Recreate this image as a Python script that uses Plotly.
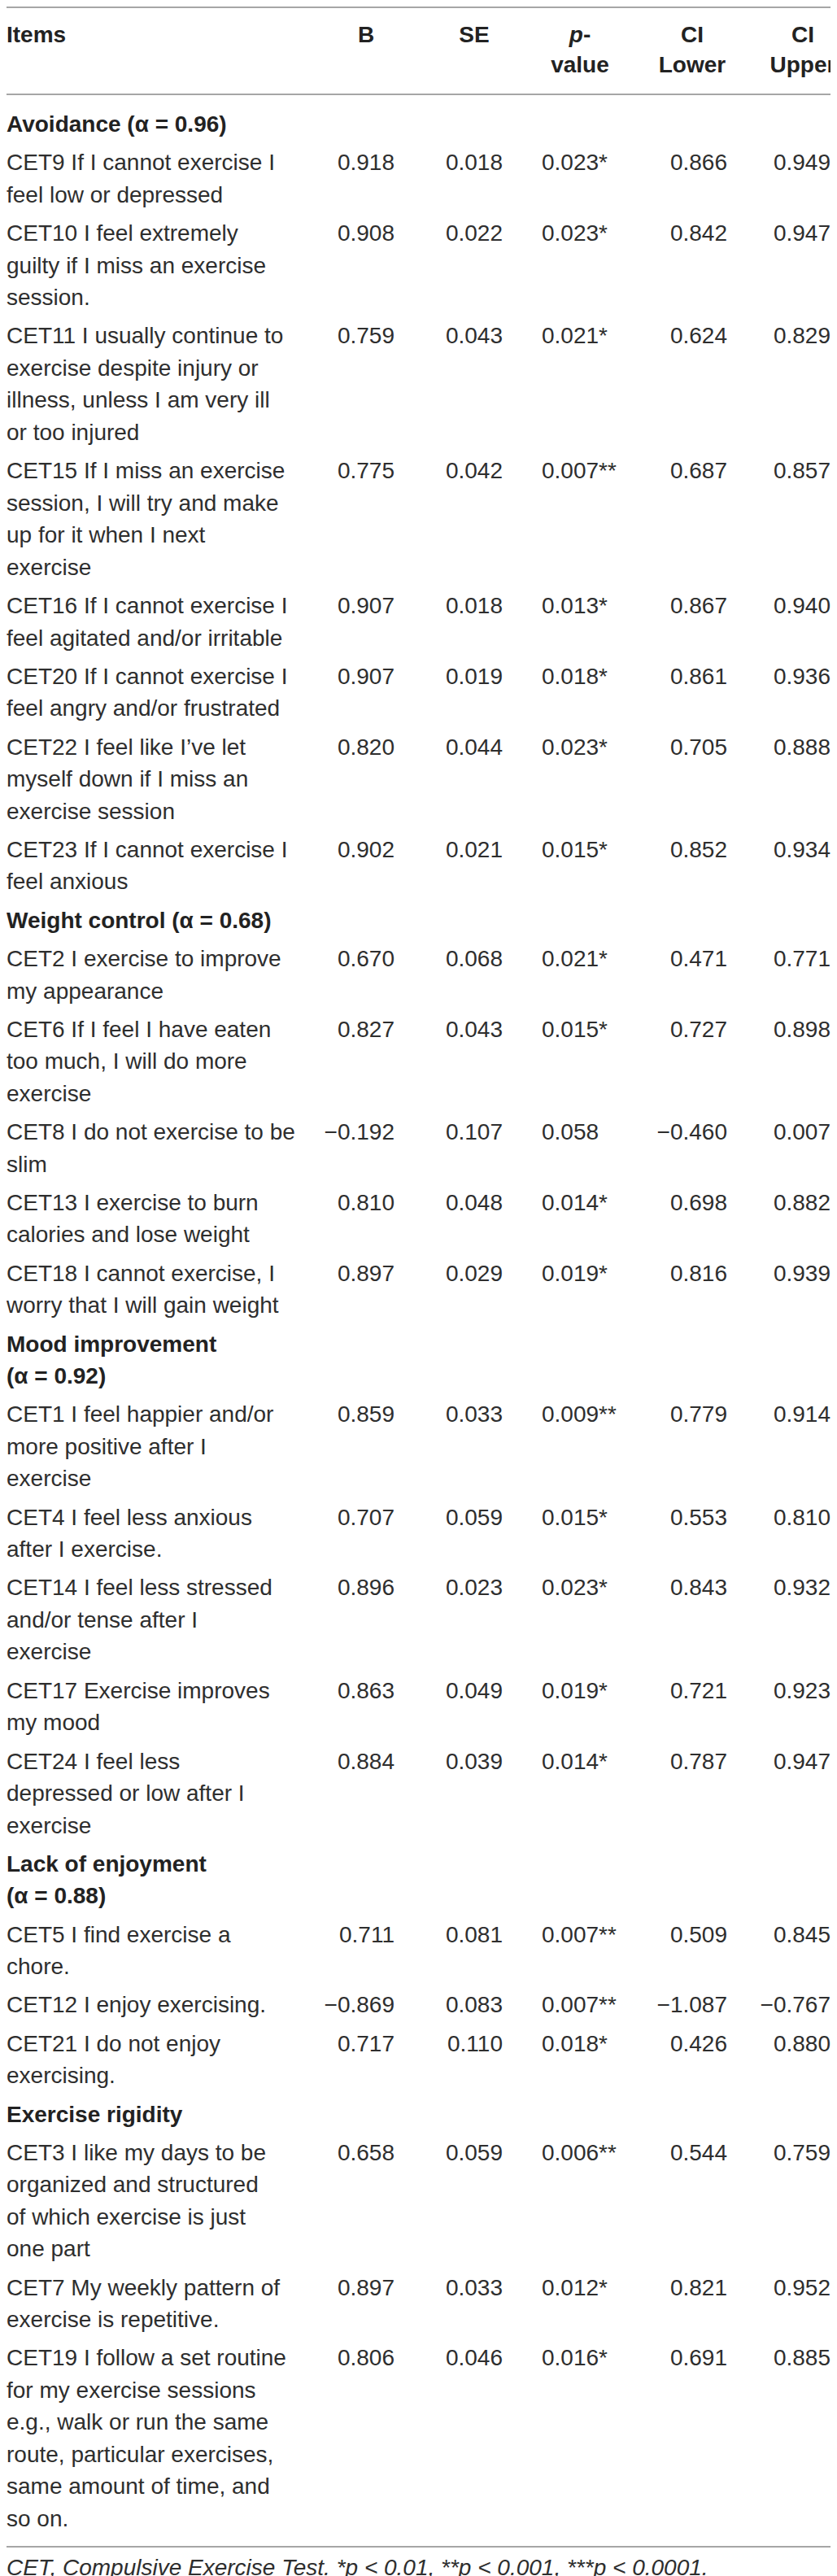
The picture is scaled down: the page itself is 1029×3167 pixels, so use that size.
import plotly.graph_objects as go

# table content
headers = ["Items", "B", "SE", "<i>p</i>-<br>value", "CI<br>Lower", "CI<br>Upper"]

section_titles = ["Avoidance (α = 0.96)", "Weight control (α = 0.68)",
                  "Mood improvement<br>(α = 0.92)", "Lack of enjoyment<br>(α = 0.88)",
                  "Exercise rigidity"]
section_sizes = [8, 5, 5, 3, 3]

items = [
    "CET9 If I cannot exercise I<br>feel low or depressed",
    "CET10 I feel extremely<br>guilty if I miss an exercise<br>session.",
    "CET11 I usually continue to<br>exercise despite injury or<br>illness, unless I am very ill<br>or too injured",
    "CET15 If I miss an exercise<br>session, I will try and make<br>up for it when I next<br>exercise",
    "CET16 If I cannot exercise I<br>feel agitated and/or irritable",
    "CET20 If I cannot exercise I<br>feel angry and/or frustrated",
    "CET22 I feel like I’ve let<br>myself down if I miss an<br>exercise session",
    "CET23 If I cannot exercise I<br>feel anxious",
    "CET2 I exercise to improve<br>my appearance",
    "CET6 If I feel I have eaten<br>too much, I will do more<br>exercise",
    "CET8 I do not exercise to be<br>slim",
    "CET13 I exercise to burn<br>calories and lose weight",
    "CET18 I cannot exercise, I<br>worry that I will gain weight",
    "CET1 I feel happier and/or<br>more positive after I<br>exercise",
    "CET4 I feel less anxious<br>after I exercise.",
    "CET14 I feel less stressed<br>and/or tense after I<br>exercise",
    "CET17 Exercise improves<br>my mood",
    "CET24 I feel less<br>depressed or low after I<br>exercise",
    "CET5 I find exercise a<br>chore.",
    "CET12 I enjoy exercising.",
    "CET21 I do not enjoy<br>exercising.",
    "CET3 I like my days to be<br>organized and structured<br>of which exercise is just<br>one part",
    "CET7 My weekly pattern of<br>exercise is repetitive.",
    "CET19 I follow a set routine<br>for my exercise sessions<br>e.g., walk or run the same<br>route, particular exercises,<br>same amount of time, and<br>so on.",
]

b_values = [0.918, 0.908, 0.759, 0.775, 0.907, 0.907, 0.820, 0.902,
            0.670, 0.827, -0.192, 0.810, 0.897,
            0.859, 0.707, 0.896, 0.863, 0.884,
            0.711, -0.869, 0.717,
            0.658, 0.897, 0.806]
se_values = [0.018, 0.022, 0.043, 0.042, 0.018, 0.019, 0.044, 0.021,
             0.068, 0.043, 0.107, 0.048, 0.029,
             0.033, 0.059, 0.023, 0.049, 0.039,
             0.081, 0.083, 0.110,
             0.059, 0.033, 0.046]
p_values = [0.023, 0.023, 0.021, 0.007, 0.013, 0.018, 0.023, 0.015,
            0.021, 0.015, 0.058, 0.014, 0.019,
            0.009, 0.015, 0.023, 0.019, 0.014,
            0.007, 0.007, 0.018,
            0.006, 0.012, 0.016]
p_stars = ["*", "*", "*", "**", "*", "*", "*", "*",
           "*", "*", "", "*", "*",
           "**", "*", "*", "*", "*",
           "**", "**", "*",
           "**", "*", "*"]
ci_lower = [0.866, 0.842, 0.624, 0.687, 0.867, 0.861, 0.705, 0.852,
            0.471, 0.727, -0.460, 0.698, 0.816,
            0.779, 0.553, 0.843, 0.721, 0.787,
            0.509, -1.087, 0.426,
            0.544, 0.821, 0.691]
ci_upper = [0.949, 0.947, 0.829, 0.857, 0.940, 0.936, 0.888, 0.934,
            0.771, 0.898, 0.007, 0.882, 0.939,
            0.914, 0.810, 0.932, 0.923, 0.947,
            0.845, -0.767, 0.880,
            0.759, 0.952, 0.885]

footnote = ("<i>CET, Compulsive Exercise Test. *p < 0.01, **p < 0.001, "
            "***p < 0.0001.</i>")

# layout constants (pixels)
W, H = 1029, 3167
FONT = "Liberation Sans, Arial, sans-serif"
SIZE = 28
TEXT = "#2e2e2e"
RULE = "#a6a6a6"
LINE = 39.5
PITCH = 47.3
FIRST_Y = 147
HEAD_Y = [37, 74]
RULES_Y = [1, 108, 3123]
FOOT_Y = 3151
HEAD_X = [0, 442, 575, 705, 843, 979]
B_RIGHT, SE_RIGHT, P_LEFT, LO_RIGHT, UP_RIGHT = 477, 610, 658, 886, 1013


def num(v):
    return f"{v:.3f}".replace("-", "\u2212")


# line positions
title_x, title_y, title_t = [], [], []
item_x, item_y, item_t = [], [], []
row_y = []
y = FIRST_Y
k = 0
for title, n in zip(section_titles, section_sizes):
    parts = title.split("<br>")
    for j, p in enumerate(parts):
        title_x.append(0)
        title_y.append(y + j * LINE)
        title_t.append(f"<b>{p}</b>")
    y += (len(parts) - 1) * LINE + PITCH
    for i in range(k, k + n):
        parts = items[i].split("<br>")
        row_y.append(y)
        for j, p in enumerate(parts):
            item_x.append(0)
            item_y.append(y + j * LINE)
            item_t.append(p)
        y += (len(parts) - 1) * LINE + PITCH
    k += n

font = dict(family=FONT, size=SIZE, color=TEXT)
traces = []


def text_trace(x, yy, t, pos, f=font):
    return go.Scatter(x=x, y=yy, text=t, mode="text", textposition=pos,
                      textfont=f, hoverinfo="skip", showlegend=False,
                      cliponaxis=False)


# header
hx, hy, ht, hp = [], [], [], []
for i, h in enumerate(headers):
    parts = h.split("<br>")
    offs = len(HEAD_Y) - len(parts) if False else 0
    for j, p in enumerate(parts):
        hx.append(HEAD_X[i])
        hy.append(HEAD_Y[j + offs])
        ht.append(f"<b>{p}</b>")
        hp.append("middle right" if i == 0 else "middle center")
traces.append(text_trace(hx, hy, ht, hp, dict(family=FONT, size=SIZE, color="#222222")))

traces.append(text_trace(title_x, title_y, title_t, "middle right",
                         dict(family=FONT, size=SIZE, color="#222222")))
traces.append(text_trace(item_x, item_y, item_t, "middle right"))

n_rows = len(items)
traces.append(text_trace([B_RIGHT] * n_rows, row_y, [num(v) for v in b_values], "middle left"))
traces.append(text_trace([SE_RIGHT] * n_rows, row_y, [num(v) for v in se_values], "middle left"))
traces.append(text_trace([P_LEFT] * n_rows, row_y,
                         [num(v) + s for v, s in zip(p_values, p_stars)], "middle right"))
traces.append(text_trace([LO_RIGHT] * n_rows, row_y, [num(v) for v in ci_lower], "middle left"))
traces.append(text_trace([UP_RIGHT] * n_rows, row_y, [num(v) for v in ci_upper], "middle left"))
traces.append(text_trace([0], [FOOT_Y], [footnote], "middle right"))

shapes = [dict(type="line", xref="x", yref="y", x0=0, x1=1020, y0=ry, y1=ry,
               line=dict(color=RULE, width=2)) for ry in RULES_Y]

layout = go.Layout(width=W, height=H, margin=dict(l=0, r=0, t=0, b=0, pad=0),
                   paper_bgcolor="white", plot_bgcolor="white",
                   xaxis=dict(range=[0, W], visible=False, fixedrange=True),
                   yaxis=dict(range=[H, 0], visible=False, fixedrange=True),
                   shapes=shapes, showlegend=False)

fig = go.Figure(data=traces, layout=layout)
fig.write_html("out.html")
